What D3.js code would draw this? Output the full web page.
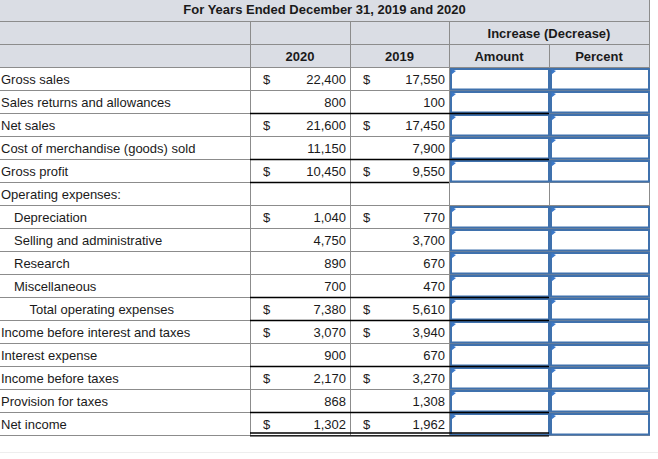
<!DOCTYPE html>
<html>
<head>
<meta charset="utf-8">
<script src="https://cdn.jsdelivr.net/npm/d3@7"></script>
<style>
  html, body { margin: 0; padding: 0; background: #fff; }
  svg { display: block; font-family: "Liberation Sans", Arial, sans-serif; }
</style>
</head>
<body>
<svg id="chart" width="658" height="459"></svg>
<script>
// ---- data ----
const title = "For Years Ended December 31, 2019 and 2020";
const groupHeader = "Increase (Decrease)";
const columnHeaders = ["2020", "2019", "Amount", "Percent"];
const labels = [
  "Gross sales", "Sales returns and allowances", "Net sales",
  "Cost of merchandise (goods) sold", "Gross profit", "Operating expenses:",
  "Depreciation", "Selling and administrative", "Research", "Miscellaneous",
  "Total operating expenses", "Income before interest and taxes",
  "Interest expense", "Income before taxes", "Provision for taxes", "Net income"
];
const indents = [0, 0, 0, 0, 0, 0, 1, 1, 1, 1, 2, 0, 0, 0, 0, 0];
const values2020 = [22400, 800, 21600, 11150, 10450, null, 1040, 4750, 890, 700, 7380, 3070, 900, 2170, 868, 1302];
const values2019 = [17550, 100, 17450, 7900, 9550, null, 770, 3700, 670, 470, 5610, 3940, 670, 3270, 1308, 1962];
const dollarRows = [1, 0, 1, 0, 1, 0, 1, 0, 0, 0, 1, 1, 0, 1, 0, 1];
const totalTopRows = [2, 4, 10, 11, 13, 15];   // single underline above these rows
const inputRows = [0, 1, 2, 3, 4, 6, 7, 8, 9, 10, 11, 12, 13, 14, 15];

// ---- layout ----
const svg = d3.select("#chart");
const gridColor = "#8c8c8c";
const headerBg = "#dadde4";
const boxBlue = "#3f71ad";
const textColor = "#1a1a1a";

const colKeys = ["label", "y2020", "y2019", "amount", "percent"];
const colEdges = [0, 250, 350, 449, 549, 649];
const xCol = d3.scaleOrdinal().domain(colKeys).range(colEdges.slice(0, 5));
const wCol = d3.scaleOrdinal().domain(colKeys).range(colEdges.slice(1).map((e, i) => e - colEdges[i]));
const tableRight = 649;

const y = d3.scaleBand().domain(d3.range(labels.length)).range([67, 67 + 23 * labels.length]);
const rh = y.bandwidth();
const tableBottom = y.range()[1];
const textDy = rh / 2 + 5.5;

const fmt = d3.format(",");

// header background
svg.append("rect").attr("x", 0).attr("y", 0).attr("width", tableRight).attr("height", 67).attr("fill", headerBg);
// body background
svg.append("rect").attr("x", 0).attr("y", 67).attr("width", tableRight).attr("height", tableBottom - 67).attr("fill", "#fff");

const grid = svg.append("g").attr("stroke", gridColor).attr("stroke-width", 1).attr("shape-rendering", "crispEdges");

// horizontal header lines
[21, 44, 67].forEach(yy => grid.append("line").attr("x1", 0).attr("x2", tableRight).attr("y1", yy + 0.5).attr("y2", yy + 0.5));
// vertical header lines
[[250, 21, 67], [350, 21, 67], [449, 21, 67], [549, 44, 67], [tableRight, 0, 67]].forEach(([xx, a, b]) =>
  grid.append("line").attr("x1", xx + 0.5).attr("x2", xx + 0.5).attr("y1", a).attr("y2", b));

// body horizontal lines (gray)
d3.range(labels.length).forEach(i => {
  const yy = y(i) + rh;
  grid.append("line").attr("x1", 0).attr("x2", tableRight).attr("y1", yy + 0.5).attr("y2", yy + 0.5);
});
// body vertical lines
[250, 350, 449, 549, tableRight].forEach(xx =>
  grid.append("line").attr("x1", xx + 0.5).attr("x2", xx + 0.5).attr("y1", 67).attr("y2", tableBottom + 1));

// header text
const ht = svg.append("g").attr("fill", textColor).attr("font-size", 13).attr("font-weight", "bold").attr("text-anchor", "middle");
ht.append("text").attr("x", tableRight / 2).attr("y", 14).text(title);
ht.append("text").attr("x", xCol("amount") + wCol("amount")).attr("y", 38).text(groupHeader);
["y2020", "y2019", "amount", "percent"].forEach((k, i) =>
  ht.append("text").attr("x", xCol(k) + wCol(k) / 2).attr("y", 61).text(columnHeaders[i]));

// row labels
const indentX = [1, 14, 29.5];
svg.append("g").attr("fill", textColor).attr("font-size", 13)
  .selectAll("text").data(labels).join("text")
  .attr("x", (d, i) => indentX[indents[i]])
  .attr("y", (d, i) => y(i) + textDy)
  .text(d => d);

// values
const vals = svg.append("g").attr("fill", textColor).attr("font-size", 13);
[["y2020", values2020], ["y2019", values2019]].forEach(([k, arr]) => {
  arr.forEach((v, i) => {
    if (v == null) return;
    const ty = y(i) + textDy;
    if (dollarRows[i]) vals.append("text").attr("x", xCol(k) + 13).attr("y", ty).text("$");
    vals.append("text").attr("x", xCol(k) + wCol(k) - 4).attr("y", ty).attr("text-anchor", "end").text(fmt(v));
  });
});

// input boxes
const boxes = svg.append("g");
inputRows.forEach(i => {
  ["amount", "percent"].forEach(k => {
    const bx = xCol(k) + 2, by = y(i) + 2;
    boxes.append("rect").attr("x", bx).attr("y", by).attr("width", wCol(k) - 2).attr("height", rh - 2.5)
      .attr("fill", "#fff").attr("stroke", boxBlue).attr("stroke-width", 2);
    boxes.append("path")
      .attr("d", `M${bx + 0.5},${by} L${bx + 5},${by + 2} L${bx + 0.5},${by + 5.5} Z`)
      .attr("fill", "#3b78c8");
  });
});

// underline (total) lines in black
const ul = svg.append("g").attr("stroke", "#000").attr("stroke-width", 1.3);
totalTopRows.forEach(i => {
  ul.append("line").attr("x1", 250).attr("x2", 549).attr("y1", y(i) + 0.5).attr("y2", y(i) + 0.5);
});
// bottom of gross profit (no amount box below)
ul.append("line").attr("x1", 250).attr("x2", 449).attr("y1", y(5) + 0.5).attr("y2", y(5) + 0.5);
// double underline under net income
ul.append("line").attr("x1", 250).attr("x2", 549).attr("y1", tableBottom - 2).attr("y2", tableBottom - 2);
ul.append("line").attr("x1", 250).attr("x2", 549).attr("y1", tableBottom + 0.8).attr("y2", tableBottom + 0.8);

// faint line below the table
svg.append("line").attr("x1", 0).attr("x2", 658).attr("y1", 452.5).attr("y2", 452.5)
  .attr("stroke", "#eeeeee").attr("stroke-width", 1);
</script>
</body>
</html>
